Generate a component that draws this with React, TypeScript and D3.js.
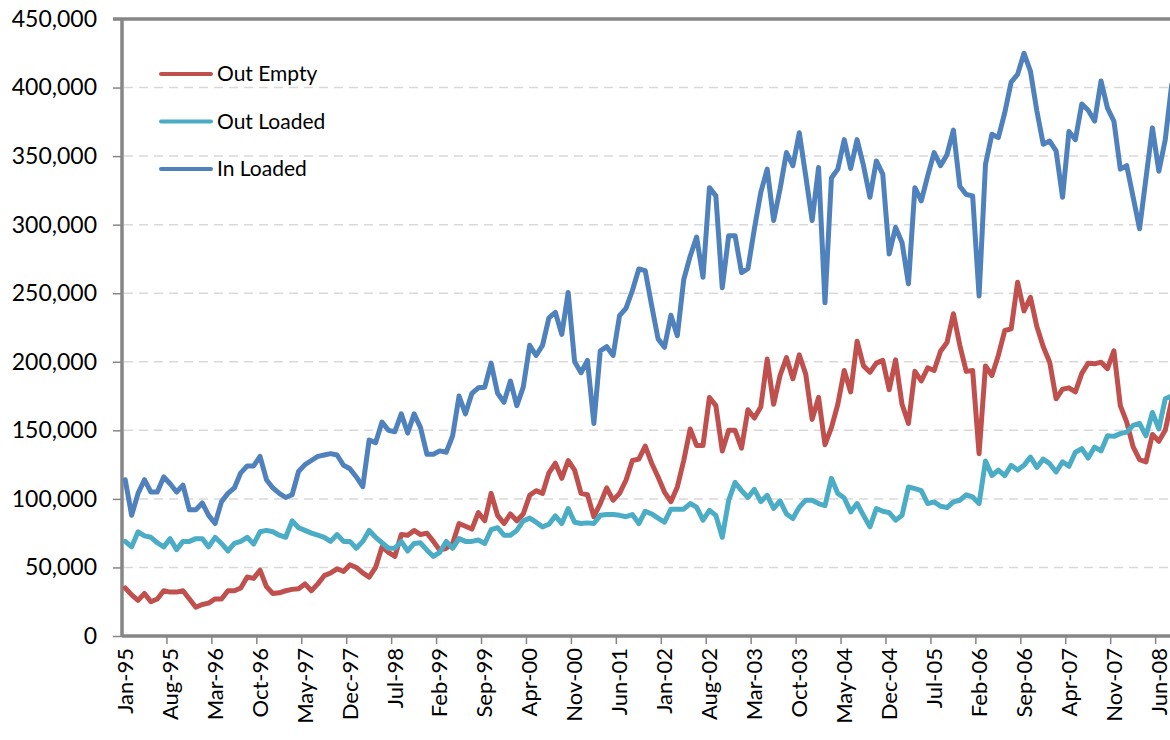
import React, { useRef, useEffect } from 'react';
import * as d3 from 'd3';

// monthly container counts in thousands, Jan-95 .. Aug-08
const outEmpty = [
  35, 30, 26, 31, 25, 27, 33, 32, 32, 33, 27, 21, 23, 24, 27, 27, 33, 33, 35, 43,
  42, 48, 36, 31, 31.5, 33, 34, 34.5, 38, 33, 38, 44, 46, 49, 47, 52, 50, 46, 43, 50,
  65, 61, 58, 74, 73.5, 77, 74, 75, 69, 62.6, 64, 67.5, 82, 80, 78, 90, 84, 104, 88, 82,
  89, 84, 89, 102.6, 106, 104, 119, 126, 115, 128, 121, 104, 103, 87, 96.6, 108, 99, 104, 113.6, 128,
  129, 138.5, 126, 116, 105, 98, 108.7, 128, 151, 139, 139, 174, 168, 135, 150, 150, 137, 165, 159, 167,
  202, 169, 190, 203, 187.6, 205, 191, 158, 174, 139.5, 152, 169, 193.6, 178, 215, 197, 192.4, 199, 201, 179.6,
  201.4, 169, 155, 193, 186, 195.6, 193.6, 207.7, 214, 235, 212, 193, 193.6, 133, 197, 190, 204.6, 222.8, 224, 258,
  237, 247, 225.7, 211, 199.7, 173, 180, 181, 178, 191.5, 199, 198.5, 199.7, 195, 208, 168, 156, 138, 128.6, 127,
  147, 142, 150, 172,
];

const outLoaded = [
  69, 65, 76, 73, 72, 68, 65, 71, 63, 69, 69, 71, 71, 65, 72, 67.5, 62, 67.5, 69, 72,
  67, 76, 77, 76, 73.5, 72, 84, 79, 77, 75, 73.5, 72, 69, 74, 69, 69, 64, 69, 77, 72,
  68, 64, 64, 69, 62, 67.5, 68, 62.6, 58, 61, 69, 64, 71, 69, 69, 70, 67.5, 77.5, 79, 73.5,
  73.5, 77, 84, 86, 83, 79.6, 81.5, 87.6, 82, 93, 83, 82, 82.5, 82, 88, 88.6, 88.6, 88, 87, 88.6,
  82, 91, 89, 86, 83, 92.5, 92.5, 92.5, 96.6, 94, 84.5, 91.7, 88, 72, 99, 112, 106, 101, 107, 98,
  102.6, 93, 98.5, 89, 85.7, 94, 99, 99, 96.6, 95, 115, 104, 100.7, 90.5, 96.6, 88, 79.6, 93, 91, 90,
  84.5, 88, 108.7, 107.5, 106, 96.6, 97.8, 94.6, 93.7, 97.8, 99, 103, 101.4, 96.6, 127.6, 117, 121, 117, 124.5, 121,
  124.5, 130.5, 123, 129, 125.7, 119.6, 127, 123.8, 134, 136.6, 129.8, 137.8, 135, 146, 145.6, 147.6, 148.7, 153.6, 155, 146,
  163, 151, 173, 175,
];

const inLoaded = [
  114, 88, 104, 114, 105, 105, 116, 111, 105, 110, 92, 92, 97, 88, 82, 98, 104, 108, 119, 124,
  124, 131, 114, 108, 104, 101, 103, 120, 125, 128, 131, 132, 133, 132, 124.5, 122, 116, 109, 143, 141,
  156, 150, 149, 162, 148, 162, 152, 132.5, 132.5, 135, 134, 146, 175, 162, 177, 181, 181.5, 199, 177, 170.5,
  186, 168, 181.5, 212, 204.6, 212, 232, 236, 220, 250.6, 200, 192, 201, 155, 208, 211, 204.6, 233.7, 239, 252,
  267.7, 266.5, 241, 216.7, 210.6, 234, 219, 260, 277, 291, 261.6, 327, 321, 254, 292, 292, 265, 268, 297, 323.5,
  340.5, 303, 326, 352.6, 343, 367, 335.6, 303, 341.7, 243, 334, 340.5, 362, 341, 362, 343, 320, 346.5, 336.8, 278.6,
  298, 287, 256.8, 327, 317.4, 335.6, 352.6, 343, 351, 369, 328, 322, 321, 248, 344, 366, 363.5, 381.7, 404, 409.6,
  425, 412, 383, 358.7, 361, 353.8, 320, 368, 362, 388, 383.5, 375.6, 404.8, 385, 375.6, 340.5, 343, 320, 297, 334,
  370.6, 339, 362, 402,
];

const seriesNames = ['Out Empty', 'Out Loaded', 'In Loaded'];
const seriesColors = ['#C0504D', '#4BACC6', '#4F81BD'];
const yTicks = [0, 50, 100, 150, 200, 250, 300, 350, 400, 450];

const firstMonth = new Date(1995, 0, 1);
const months = d3.timeMonth.range(firstMonth, d3.timeMonth.offset(firstMonth, outEmpty.length));
const labelEvery = 7;

const FONT = 'Lato, "Open Sans", sans-serif';

const App = () => {
  const svgRef = useRef(null);

  useEffect(() => {
    const width = 1170;
    const left = 122;
    const top = 19;
    const bottom = 636;
    const step = 6.42;

    const svg = d3.select(svgRef.current);
    svg.selectAll('*').remove();

    const x = d3.scaleBand()
      .domain(d3.range(months.length))
      .range([left, left + step * months.length])
      .padding(0);
    const cx = (i) => x(i) + x.bandwidth() / 2;

    const y = d3.scaleLinear().domain([0, 450]).range([bottom, top]);

    // gridlines
    svg.append('g')
      .selectAll('line')
      .data(yTicks.filter((d) => d > 0 && d < 450))
      .join('line')
      .attr('x1', left + 2)
      .attr('x2', width)
      .attr('y1', (d) => y(d))
      .attr('y2', (d) => y(d))
      .attr('stroke', '#d9d9d9')
      .attr('stroke-width', 1.5)
      .attr('stroke-dasharray', '9,6');

    // y axis
    const yAxis = d3.axisLeft(y)
      .tickValues(yTicks)
      .tickSize(9)
      .tickSizeOuter(0)
      .tickPadding(16)
      .tickFormat((d) => d3.format(',')(d * 1000));

    const gy = svg.append('g')
      .attr('transform', `translate(${left}, 0)`)
      .call(yAxis);
    gy.select('.domain').remove();
    gy.selectAll('.tick line').attr('stroke', '#868686').attr('stroke-width', 1.5);
    gy.selectAll('.tick text')
      .attr('fill', '#000')
      .style('font-family', FONT)
      .style('font-size', '23px');

    // x axis labels
    const labelIdx = d3.range(0, months.length, labelEvery);
    const fmt = d3.timeFormat('%b-%y');
    svg.append('g')
      .selectAll('text')
      .data(labelIdx)
      .join('text')
      .attr('transform', (i) => `translate(${cx(i)}, 648) rotate(-90)`)
      .attr('text-anchor', 'end')
      .attr('dy', '0.35em')
      .style('font-family', FONT)
      .style('font-size', '22px')
      .attr('fill', '#000')
      .text((i) => fmt(months[i]));

    // x tick marks at category boundaries
    svg.append('g')
      .selectAll('line')
      .data(labelIdx.filter((i) => i > 0))
      .join('line')
      .attr('x1', (i) => x(i))
      .attr('x2', (i) => x(i))
      .attr('y1', bottom)
      .attr('y2', bottom + 8)
      .attr('stroke', '#868686')
      .attr('stroke-width', 1.5);

    // axis lines and top border
    const frame = svg.append('g').attr('stroke', '#868686').attr('stroke-width', 3.5);
    frame.append('line').attr('x1', left).attr('x2', left).attr('y1', top).attr('y2', bottom);
    frame.append('line').attr('x1', left).attr('x2', width).attr('y1', bottom).attr('y2', bottom);
    frame.append('line').attr('x1', left - 9).attr('x2', width).attr('y1', top).attr('y2', top);

    // lines
    const allSeries = [outEmpty, outLoaded, inLoaded];
    const line = d3.line()
      .x((d, i) => cx(i))
      .y((d) => y(d));

    svg.append('g')
      .selectAll('path')
      .data(allSeries)
      .join('path')
      .attr('fill', 'none')
      .attr('stroke', (d, i) => seriesColors[i])
      .attr('stroke-width', 5)
      .attr('stroke-linejoin', 'round')
      .attr('stroke-linecap', 'round')
      .attr('d', line);

    // legend
    const legend = svg.append('g')
      .selectAll('g')
      .data(seriesNames)
      .join('g')
      .attr('transform', (d, i) => `translate(161, ${74 + i * 47.5})`);
    legend.append('line')
      .attr('x1', 0)
      .attr('x2', 50)
      .attr('stroke', (d, i) => seriesColors[i])
      .attr('stroke-width', 4)
      .attr('stroke-linecap', 'round');
    legend.append('text')
      .attr('x', 56)
      .attr('dy', '0.35em')
      .style('font-family', FONT)
      .style('font-size', '21px')
      .attr('fill', '#000')
      .text((d) => d);
  }, []);

  return (
    <div style={{ position: 'absolute', left: 0, top: 0 }}>
      <svg ref={svgRef} width={1170} height={740} style={{ display: 'block', background: '#fff' }} />
    </div>
  );
};

export default App;
